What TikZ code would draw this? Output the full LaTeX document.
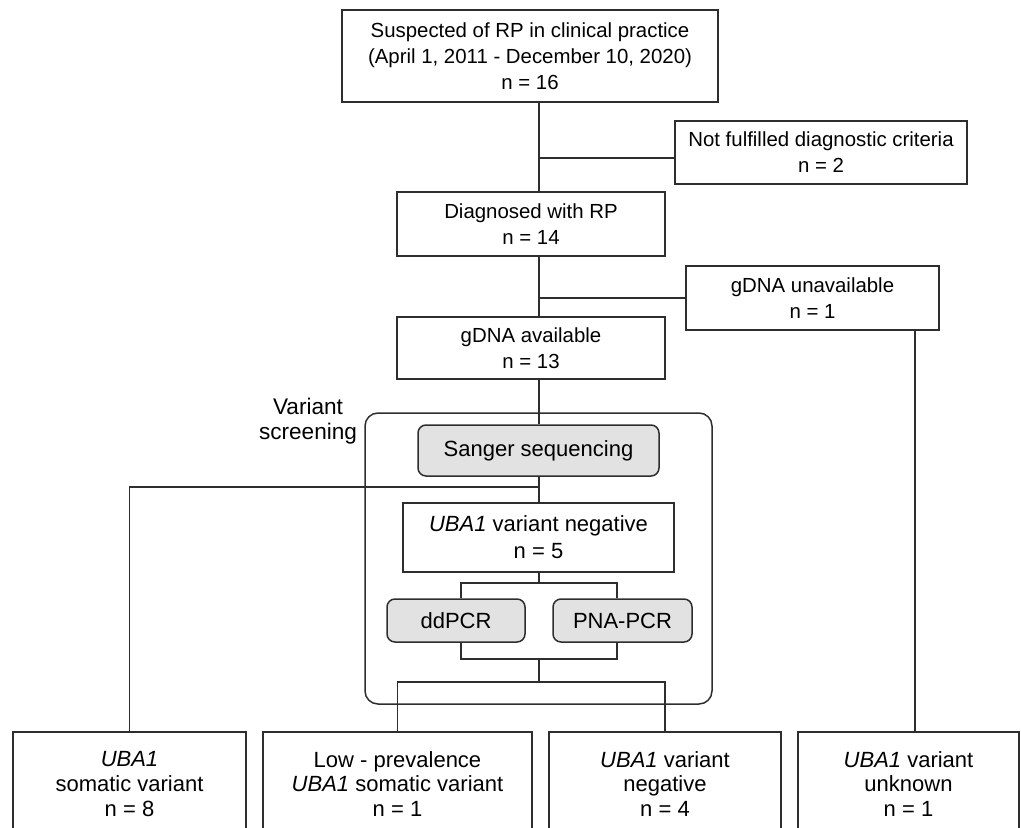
\documentclass[tikz,border=0pt]{standalone}
\usepackage{fontspec}
\setmainfont{Liberation Sans}
\usepackage{tikz}
\usetikzlibrary{positioning}
\definecolor{boxgray}{HTML}{E2E2E2}
\definecolor{linegray}{HTML}{2E2E2E}
\tikzset{
  fc/.style={x=0.5pt, y=-0.5pt, every node/.style={font=\fontsize{10.2}{13}\selectfont, align=center, inner sep=0pt}},
  big/.style={font=\fontsize{11}{13}\selectfont},
  outcome/.style={box, font=\fontsize{11}{12.3}\selectfont},
  box/.style={draw=linegray, line width=0.75pt, fill=white},
  method/.style={box, big, fill=boxgray, rounded corners=4pt},
  panel/.style={draw=linegray, line width=0.75pt, rounded corners=6.5pt},
  link/.style={draw=linegray, line width=0.65pt}
}
\newcommand{\uba}{\textit{UBA1}}

\begin{document}
\begin{tikzpicture}[fc]
\useasboundingbox (0,0) rectangle (1021,828);
\clip (0,0) rectangle (1021,828);
\node[panel, minimum width=173.5pt, minimum height=145.5pt] (screen) at (538.5,558.5) {};
\node[font=\fontsize{11.3}{12.7}\selectfont] (lbl) at (308,421) {Variant\\screening};
\node[box, minimum width=188pt, minimum height=46pt] (top) at (530,56) {Suspected of RP in clinical practice\\(April 1, 2011 - December 10, 2020)\\n = 16};
\node[box, minimum width=146pt, minimum height=31.5pt] (crit) at (821,152.5) {Not fulfilled diagnostic criteria\\n = 2};
\node[box, minimum width=134pt, minimum height=32pt] (diag) at (531,224) {Diagnosed with RP\\n = 14};
\node[box, minimum width=126.5pt, minimum height=32pt] (unav) at (812.5,298) {gDNA unavailable\\n = 1};
\node[box, minimum width=134pt, minimum height=31pt] (avail) at (531,348) {gDNA available\\n = 13};
\node[method, minimum width=120.5pt, minimum height=25.5pt] (sanger) at (538.5,450.5) {Sanger sequencing};
\node[box, big, font=\fontsize{11}{13.5}\selectfont, minimum width=135.5pt, minimum height=34.5pt] (neg5) at (538.5,537.5) {\uba{} variant negative\\n = 5};
\node[method, minimum width=69pt, minimum height=21.5pt] (dd) at (456,620.5) {ddPCR};
\node[method, minimum width=69.5pt, minimum height=21.5pt] (pna) at (622.5,620.5) {PNA-PCR};
\node[outcome, minimum width=116.5pt, minimum height=52pt] (b1) at (129.5,784) {\uba\\somatic variant\\n = 8};
\node[outcome, minimum width=134.5pt, minimum height=52pt] (b2) at (397.5,784) {Low - prevalence\\\uba{} somatic variant\\n = 1};
\node[outcome, minimum width=116pt, minimum height=52pt] (b3) at (665,784) {\uba{} variant\\negative\\n = 4};
\node[outcome, minimum width=110.5pt, minimum height=52pt] (b4) at (908.5,784) {\uba{} variant\\unknown\\n = 1};
% junctions
\coordinate (trunk) at (539,0);
\coordinate (ddx) at (461,0);
\coordinate (pnax) at (617,0);
\coordinate (rx) at (915,0);
\coordinate (j1) at (539,158);
\coordinate (j2) at (539,298);
\coordinate (j3) at (539,487);
\coordinate (j4) at (539,583);
\coordinate (j5) at (539,659);
\coordinate (j6) at (539,682);
\draw[link] (top.south -| trunk) -- (diag.north -| trunk);
\draw[link] (j1) -- (j1 -| crit.west);
\draw[link] (diag.south -| trunk) -- (avail.north -| trunk);
\draw[link] (j2) -- (j2 -| unav.west);
\draw[link] (avail.south -| trunk) -- (sanger.north -| trunk);
\draw[link] (sanger.south -| trunk) -- (neg5.north -| trunk);
\draw[link] (j3) -| (b1.north);
\draw[link] (neg5.south -| trunk) -- (j4);
\draw[link] (dd.north -| ddx) -- (j4 -| ddx) -- (j4 -| pnax) -- (pna.north -| pnax);
\draw[link] (dd.south -| ddx) -- (j5 -| ddx) -- (j5 -| pnax) -- (pna.south -| pnax);
\draw[link] (j5) -- (j6);
\draw[link] (b2.north) |- (j6) -| (b3.north);
\draw[link] (unav.south -| rx) -- (b4.north -| rx);
\end{tikzpicture}
\end{document}
